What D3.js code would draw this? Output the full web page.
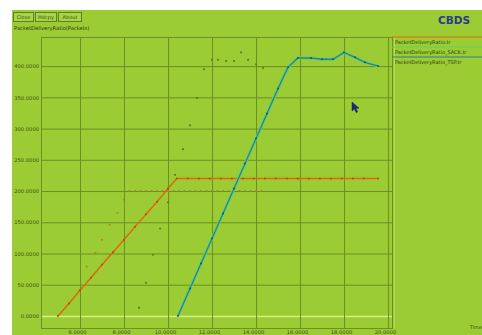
<!DOCTYPE html>
<html>
<head>
<meta charset="utf-8">
<script src="https://cdn.jsdelivr.net/npm/d3@7"></script>
<style>
  html, body { margin: 0; padding: 0; background: #fff; }
  svg { display: block; }
  text { font-family: "DejaVu Sans", sans-serif; }
</style>
</head>
<body>
<svg id="chart" width="482" height="335"></svg>
<script>
// ---- data -------------------------------------------------------------
const xTicks = [6, 8, 10, 12, 14, 16, 18, 20];
const yTicks = [0, 50, 100, 150, 200, 250, 300, 350, 400];

const seriesNames = [
  "PacketDeliveryRatio.tr",
  "PacketDeliveryRatio_SACK.tr",
  "PacketDeliveryRatio_TSP.tr"
];

// PacketDeliveryRatio.tr
const baseTime = [5.0, 5.5, 6.0, 6.5, 7.0, 7.5, 8.0, 8.5, 9.0, 9.5, 10.0, 10.4,
  10.9, 11.4, 11.9, 12.4, 12.9, 13.4, 13.9, 14.4, 14.9, 15.4, 15.9, 16.4, 16.9,
  17.4, 17.9, 18.4, 18.9, 19.55];
const baseValue = [0, 20, 41, 61, 82, 102, 122, 143, 163, 183, 204, 220,
  220, 220, 220, 220, 220, 220, 220, 220, 220, 220, 220, 220, 220,
  220, 220, 220, 220, 220];

// PacketDeliveryRatio_SACK.tr / _TSP.tr (the two traces coincide)
const tspTime = [10.45, 11.0, 11.5, 12.0, 12.5, 13.0, 13.5, 14.0, 14.5, 15.0,
  15.45, 15.9, 16.5, 17.0, 17.5, 18.0, 18.5, 18.95, 19.55];
const tspValue = [0, 44, 84, 124, 164, 204, 244, 284, 324, 364,
  398, 413, 413, 411, 411, 422, 414, 406, 400];

// faint sample points left on the canvas
const ghostATime = [6.3, 6.7, 7.0, 7.35, 7.7, 8.0, 8.25, 8.5, 8.75, 9.0, 9.25,
  9.5, 9.75, 10.0, 10.25, 10.5, 10.75, 11.0, 11.25, 11.5, 11.75, 12.0, 12.25,
  12.5, 12.75, 13.0, 13.25, 13.5, 13.75, 14.0, 14.25];
const ghostAValue = [79, 101, 122, 146, 165, 186, 200, 200, 200, 200, 200,
  200, 200, 200, 200, 200, 200, 200, 200, 200, 200, 200, 200,
  200, 200, 200, 200, 200, 200, 200, 200];
const ghostBTime = [8.68, 9.0, 9.32, 9.64, 10.0, 10.32, 10.68, 11.0, 11.32,
  11.64, 12.0, 12.27, 12.64, 13.0, 13.32, 13.64, 14.0, 14.32];
const ghostBValue = [13, 53, 98, 140, 182, 226, 267, 305, 349,
  395, 410, 410, 408, 408, 422, 410, 403, 397];

// ---- layout -----------------------------------------------------------
const svg = d3.select("#chart");
const plot = { left: 41, right: 392, top: 37, bottom: 328 };

const x = d3.scaleLinear().domain([4.227, 20.18]).range([plot.left, plot.right]);
const y = d3.scaleLinear().domain([-19.3, 446.6]).range([plot.bottom, plot.top]);

const bg = "#9bcc33";
const gridColor = "#6b8f2b";
const textColor = "#3d4f1a";

// window background
svg.append("rect").attr("x", 12).attr("y", 10).attr("width", 470).attr("height", 325).attr("fill", bg);

// buttons
const buttons = [["Close", 13, 20], ["Hdcpy", 35, 21], ["About", 58, 23]];
buttons.forEach(([label, bx, bw]) => {
  svg.append("rect").attr("x", bx + 0.5).attr("y", 12.5).attr("width", bw).attr("height", 9)
    .attr("fill", "#a6d444").attr("stroke", "#5e7f2a").attr("stroke-width", 1);
  svg.append("text").attr("x", bx + bw / 2 + 0.5).attr("y", 17.5)
    .attr("text-anchor", "middle").attr("dominant-baseline", "middle")
    .attr("font-size", 5).attr("fill", textColor).text(label);
});

svg.append("text").attr("x", 14).attr("y", 28.5).attr("dominant-baseline", "middle")
  .attr("font-size", 5.2).attr("fill", "#2e3c14").text("PacketDeliveryRatio(Packets)");

// title
svg.append("text").attr("x", 470).attr("y", 21).attr("text-anchor", "end")
  .attr("dominant-baseline", "middle").attr("font-size", 10.5).attr("font-weight", "bold")
  .attr("fill", "#2a3a8c").text("CBDS");

// x label
svg.append("text").attr("x", 482).attr("y", 328).attr("text-anchor", "end")
  .attr("dominant-baseline", "middle").attr("font-size", 5).attr("fill", textColor).text("Time");

// ---- grid & axes ------------------------------------------------------
const gy = svg.append("g").attr("transform", `translate(${plot.left},0)`)
  .call(d3.axisLeft(y).tickValues(yTicks).tickFormat(d3.format(".4f"))
    .tickSize(-(plot.right - plot.left)).tickPadding(2));
gy.select(".domain").remove();
gy.selectAll(".tick line").attr("stroke", gridColor).attr("stroke-width", 1);
gy.selectAll(".tick").filter(d => d === 0).select("line")
  .attr("stroke", "#d4ee8a").attr("stroke-width", 1.6);
gy.selectAll(".tick text").attr("font-size", 5.2).attr("fill", textColor)
  .attr("font-family", "DejaVu Sans, sans-serif");

const gx = svg.append("g").attr("transform", `translate(0,${plot.bottom})`)
  .call(d3.axisBottom(x).tickValues(xTicks).tickFormat(d3.format(".4f"))
    .tickSize(-(plot.bottom - plot.top)).tickPadding(2));
gx.select(".domain").remove();
gx.selectAll(".tick line").attr("stroke", gridColor).attr("stroke-width", 1);
gx.selectAll(".tick text").attr("font-size", 5.2).attr("fill", textColor)
  .attr("font-family", "DejaVu Sans, sans-serif").attr("dx", -3);

// plot frame
svg.append("rect").attr("x", plot.left + 0.5).attr("y", plot.top + 0.5)
  .attr("width", plot.right - plot.left).attr("height", plot.bottom - plot.top)
  .attr("fill", "none").attr("stroke", gridColor).attr("stroke-width", 1);

// ---- faint sample points ---------------------------------------------
svg.append("g").selectAll("circle").data(ghostATime).join("circle")
  .attr("cx", (d, i) => x(d)).attr("cy", (d, i) => y(ghostAValue[i]))
  .attr("r", 1).attr("fill", "#a8802c");
svg.append("g").selectAll("circle").data(ghostBTime).join("circle")
  .attr("cx", (d, i) => x(d)).attr("cy", (d, i) => y(ghostBValue[i]))
  .attr("r", 1.1).attr("fill", "#5d7a35");

// ---- series lines -----------------------------------------------------
const line = d3.line().x(d => x(d[0])).y(d => y(d[1]));

const basePts = baseTime.map((t, i) => [t, baseValue[i]]);
const tspPts = tspTime.map((t, i) => [t, tspValue[i]]);

svg.append("path").datum(basePts).attr("d", line)
  .attr("fill", "none").attr("stroke", "#e2680c").attr("stroke-width", 1.5);
svg.append("g").selectAll("circle").data(basePts).join("circle")
  .attr("cx", d => x(d[0])).attr("cy", d => y(d[1])).attr("r", 1)
  .attr("fill", "#b04a0a");

// SACK trace underneath TSP
svg.append("path").datum(tspPts).attr("d", line)
  .attr("fill", "none").attr("stroke", "#5fd36a").attr("stroke-width", 3);
svg.append("path").datum(tspPts).attr("d", line)
  .attr("fill", "none").attr("stroke", "#2f7f9a").attr("stroke-width", 1.3);
svg.append("g").selectAll("circle").data(tspPts).join("circle")
  .attr("cx", d => x(d[0])).attr("cy", d => y(d[1])).attr("r", 1)
  .attr("fill", "#23566a");

// ---- legend -----------------------------------------------------------
const legendColors = ["#e2680c", "#5fd36a", "#2f7f9a"];
svg.append("line").attr("x1", plot.right + 0.5).attr("x2", plot.right + 0.5)
  .attr("y1", plot.top).attr("y2", plot.bottom).attr("stroke", gridColor);
svg.append("line").attr("x1", plot.right + 2.5).attr("x2", plot.right + 2.5)
  .attr("y1", plot.top).attr("y2", plot.bottom).attr("stroke", "#b6dc63");
seriesNames.forEach((name, i) => {
  const ly = 37 + i * 10;
  svg.append("line").attr("x1", plot.right).attr("x2", 482)
    .attr("y1", ly).attr("y2", ly).attr("stroke", legendColors[i]).attr("stroke-width", 1.2);
  svg.append("text").attr("x", 395).attr("y", ly + 5.5).attr("dominant-baseline", "middle")
    .attr("font-size", 5).attr("fill", "#2e3c14").text(name);
});

// ---- pointer ----------------------------------------------------------
svg.append("path")
  .attr("d", "M352,102 L352,111 L354.3,108.8 L356.2,112.6 L357.6,112 L355.8,108.2 L359,108.2 Z")
  .attr("fill", "#1c2a86").attr("stroke", "#0f1650").attr("stroke-width", 0.5);
</script>
</body>
</html>
